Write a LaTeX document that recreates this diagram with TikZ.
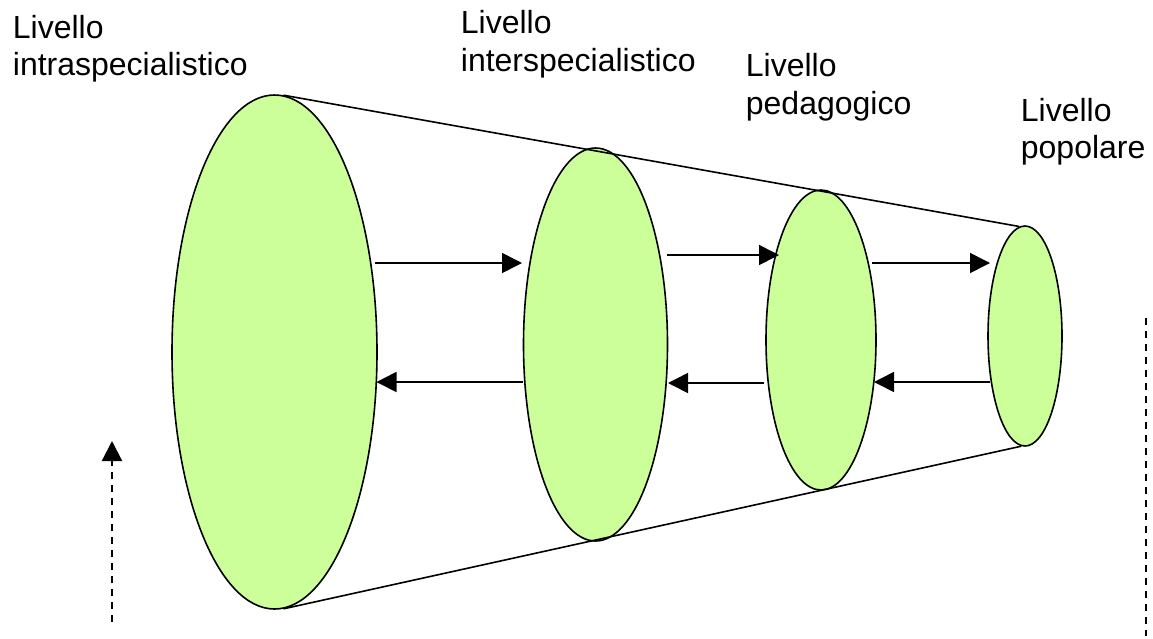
\documentclass[tikz,border=0pt]{standalone}
\usepackage{fontspec}
\setmainfont{Liberation Sans}
\usetikzlibrary{shapes.geometric,arrows.meta}
\definecolor{levelfill}{HTML}{CCFF99}
\begin{document}
\begin{tikzpicture}[x=1pt,y=-1pt,
  level/.style={ellipse,draw=black,line width=1.6pt,fill=levelfill,inner sep=0pt},
  label/.style={anchor=base west,align=left,inner sep=0pt,
    font=\fontsize{32}{37.5}\selectfont},
  flow/.style={line width=1.6pt,-{Triangle[length=20pt,width=20pt]}},
  cone/.style={line width=1.6pt},
  guide/.style={line width=2.2pt,dash pattern=on 7pt off 6pt}]
\useasboundingbox (0,0) rectangle (1153,638);

% the four levels
\node[level,minimum width=205pt,minimum height=514pt] (e1) at (274.5,352) {};
\node[level,minimum width=144pt,minimum height=393pt] (e2) at (595.5,344.5) {};
\node[level,minimum width=110pt,minimum height=300pt] (e3) at (821,340) {};
\node[level,minimum width=74pt,minimum height=220pt] (e4) at (1025,336) {};

% outline of the cone
\draw[cone] (e1.88) -- (e4.93);
\draw[cone] (e1.-88) -- (e4.-92);

% arrow end points
\coordinate (a1s) at (375,263);   \coordinate (a1e) at (522,263);
\coordinate (a2s) at (667,255);   \coordinate (a2e) at (779,255);
\coordinate (a3s) at (872,263);   \coordinate (a3e) at (990,263);
\coordinate (b1s) at (522.5,382); \coordinate (b1e) at (376.5,382);
\coordinate (b2s) at (764,383);   \coordinate (b2e) at (668,383);
\coordinate (b3s) at (990,382);   \coordinate (b3e) at (874,382);

\draw[flow] (a1s) -- (a1e);
\draw[flow] (a2s) -- (a2e);
\draw[flow] (a3s) -- (a3e);
\draw[flow] (b1s) -- (b1e);
\draw[flow] (b2s) -- (b2e);
\draw[flow] (b3s) -- (b3e);

% dashed guides at the sides
\coordinate (gLb) at (112,622);
\coordinate (gLt) at (112,441);
\coordinate (gRt) at (1146,318);
\coordinate (gRb) at (1146,636);
\draw[guide,-{Triangle[length=20pt,width=20pt]}] (gLb) -- (gLt);
\draw[guide] (gRt) -- (gRb);

% level names (anchored on the baseline of the second line)
\node[label] (t1) at (12.7,75.5) {Livello\\intraspecialistico};
\node[label] (t2) at (460.7,71) {Livello\\interspecialistico};
\node[label] (t3) at (745.7,114) {Livello\\pedagogico};
\node[label] (t4) at (1020.7,158.5) {Livello\\popolare};
\end{tikzpicture}
\end{document}
